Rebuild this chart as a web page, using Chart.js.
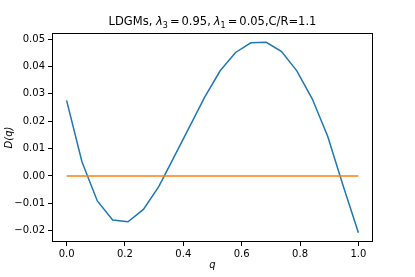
<!DOCTYPE html>
<html>
<head>
<meta charset="utf-8">
<script src="https://cdn.jsdelivr.net/npm/chart.js@4/dist/chart.umd.min.js"></script>
<style>
  html, body { margin: 0; padding: 0; background: #fff; }
  canvas { display: block; }
</style>
</head>
<body>
<canvas id="chart" width="415" height="277"></canvas>
<script>
// D(q) curve for LDGMs
const qValues = [0, 0.0526, 0.1053, 0.1579, 0.2105, 0.2632, 0.3158, 0.3684, 0.4211, 0.4737,
                 0.5263, 0.5789, 0.6316, 0.6842, 0.7368, 0.7895, 0.8421, 0.8947, 0.9474, 1.0];
const dValues = [0.0276, 0.0052, -0.0091, -0.0161, -0.0167, -0.0122, -0.0039, 0.0070, 0.0179, 0.0289,
                 0.0384, 0.0451, 0.0486, 0.0488, 0.0454, 0.0383, 0.0281, 0.0145, -0.0035, -0.0207];
const zeroValues = [0, 0, 0, 0, 0, 0, 0, 0, 0, 0, 0, 0, 0, 0, 0, 0, 0, 0, 0, 0];

const xTicks = [0, 0.2, 0.4, 0.6, 0.8, 1.0];
const yTicks = [-0.02, -0.01, 0, 0.01, 0.02, 0.03, 0.04, 0.05];

const FONT = '"DejaVu Sans", sans-serif';

function toPoints(xs, ys) {
    return xs.map((x, i) => ({ x: x, y: ys[i] }));
}

function fmt(v, digits) {
    return v.toFixed(digits).replace('-', '\u2212');
}

// frame, title with subscripts, axis labels
const decorations = {
    id: 'decorations',
    afterDraw(chart) {
        const ctx = chart.ctx;
        const a = chart.chartArea;
        ctx.save();
        ctx.strokeStyle = '#000';
        ctx.lineWidth = 1;
        ctx.strokeRect(Math.round(a.left) + 0.5, Math.round(a.top) + 0.5,
                       Math.round(a.right - a.left) - 1, Math.round(a.bottom - a.top) - 1);

        // title (mathtext-like pieces)
        const big = '11.5px ' + FONT;
        const ital = 'italic 11.5px ' + FONT;
        const sub = '8px ' + FONT;
        const segs = [
            { t: 'LDGMs, ', f: big },
            { t: '\u03bb', f: ital },
            { t: '3', f: sub, dy: 2.5, gap: 2 },
            { t: '=', f: big, gap: 2 },
            { t: '0.95,', f: big, gap: 3 },
            { t: '\u03bb', f: ital },
            { t: '1', f: sub, dy: 2.5, gap: 2 },
            { t: '=', f: big, gap: 2 },
            { t: '0.05,C/R=1.1', f: big }
        ];
        let total = 0;
        segs.forEach(s => {
            ctx.font = s.f;
            s.w = ctx.measureText(s.t).width + (s.gap || 0);
            total += s.w;
        });
        let x = (a.left + a.right) / 2 - total / 2;
        ctx.fillStyle = '#000';
        ctx.textBaseline = 'alphabetic';
        ctx.textAlign = 'left';
        segs.forEach(s => {
            ctx.font = s.f;
            ctx.fillText(s.t, x, 25 + (s.dy || 0));
            x += s.w;
        });

        // x label
        ctx.font = 'italic 10px ' + FONT;
        ctx.textAlign = 'center';
        ctx.textBaseline = 'middle';
        ctx.fillText('q', (a.left + a.right) / 2, 265);

        // y label
        ctx.translate(9, (a.top + a.bottom) / 2);
        ctx.rotate(-Math.PI / 2);
        ctx.fillText('D(q)', 0, 0);
        ctx.restore();
    }
};

new Chart(document.getElementById('chart'), {
    type: 'line',
    data: {
        datasets: [
            {
                label: 'D(q)',
                data: toPoints(qValues, dValues),
                borderColor: '#1f77b4',
                borderWidth: 1.5,
                pointRadius: 0,
                tension: 0,
                order: 1
            },
            {
                label: 'zero',
                data: toPoints(qValues, zeroValues),
                borderColor: '#ff7f0e',
                borderWidth: 1.5,
                pointRadius: 0,
                tension: 0,
                order: 0
            }
        ]
    },
    options: {
        responsive: false,
        devicePixelRatio: 1,
        animation: false,
        layout: { padding: { top: 33, right: 42, left: 0, bottom: 0 } },
        plugins: {
            legend: { display: false },
            title: { display: false },
            tooltip: { enabled: false }
        },
        scales: {
            x: {
                type: 'linear',
                min: -0.05,
                max: 1.05,
                afterBuildTicks: scale => { scale.ticks = xTicks.map(v => ({ value: v })); },
                afterFit: scale => { scale.height = 35; },
                grid: { drawOnChartArea: false, drawTicks: true, tickLength: 4, tickColor: '#000' },
                border: { display: false },
                ticks: {
                    autoSkip: false,
                    maxRotation: 0,
                    padding: 2,
                    color: '#000',
                    font: { family: FONT, size: 10 },
                    callback: v => fmt(v, 1)
                }
            },
            y: {
                type: 'linear',
                min: -0.0241,
                max: 0.0522,
                afterBuildTicks: scale => { scale.ticks = yTicks.map(v => ({ value: v })); },
                afterFit: scale => { scale.width = 52; },
                grid: { drawOnChartArea: false, drawTicks: true, tickLength: 4, tickColor: '#000' },
                border: { display: false },
                ticks: {
                    autoSkip: false,
                    padding: 3,
                    color: '#000',
                    font: { family: FONT, size: 10 },
                    callback: v => fmt(v, 2)
                }
            }
        }
    },
    plugins: [decorations]
});
</script>
</body>
</html>
